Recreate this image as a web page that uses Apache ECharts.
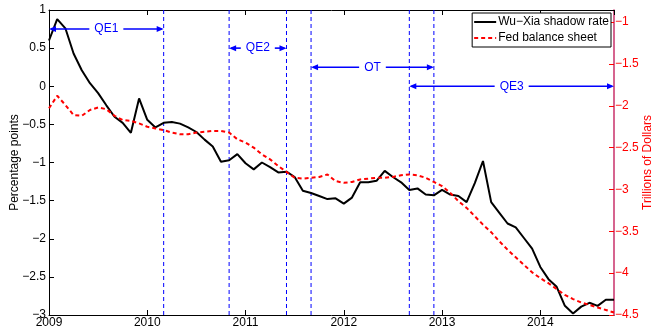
<!DOCTYPE html>
<html>
<head>
<meta charset="utf-8">
<script src="https://cdn.jsdelivr.net/npm/echarts@6/dist/echarts.min.js"></script>
<style>
  html, body { margin: 0; padding: 0; background: #fff; }
  #chart { width: 653px; height: 329px; }
</style>
</head>
<body>
<div id="chart"></div>
<script>
// Monthly observations, January 2009 through October 2014
const startYear = 2009;

// Wu–Xia shadow federal funds rate, percentage points (left axis)
const shadowRate = [
  0.60, 0.88, 0.76, 0.43, 0.21, 0.04, -0.09, -0.25, -0.40, -0.48, -0.61, -0.16,
  -0.44, -0.54, -0.48, -0.47, -0.49, -0.54, -0.60, -0.70, -0.79, -0.99, -0.97, -0.89,
  -1.01, -1.09, -1.00, -1.06, -1.13, -1.12, -1.19, -1.37, -1.40, -1.44, -1.48, -1.47,
  -1.54, -1.46, -1.26, -1.26, -1.24, -1.11, -1.19, -1.26, -1.36, -1.34, -1.42, -1.43,
  -1.36, -1.42, -1.44, -1.52, -1.27, -0.98, -1.52, -1.66, -1.80, -1.85, -1.99, -2.13,
  -2.37, -2.53, -2.63, -2.88, -2.98, -2.89, -2.84, -2.88, -2.80, -2.80
];

// Fed balance sheet, trillions of dollars, sign flipped (right axis)
const balanceSheet = [
  -2.03, -1.88, -1.99, -2.11, -2.12, -2.05, -2.02, -2.04, -2.12, -2.17, -2.18, -2.21,
  -2.25, -2.27, -2.29, -2.32, -2.34, -2.34, -2.32, -2.31, -2.30, -2.30, -2.32, -2.40,
  -2.44, -2.50, -2.58, -2.64, -2.72, -2.79, -2.86, -2.87, -2.86, -2.85, -2.82, -2.90,
  -2.92, -2.91, -2.88, -2.87, -2.86, -2.86, -2.85, -2.83, -2.82, -2.83, -2.86, -2.91,
  -2.96, -3.04, -3.14, -3.22, -3.32, -3.42, -3.51, -3.62, -3.72, -3.81, -3.90, -3.99,
  -4.06, -4.12, -4.19, -4.26, -4.31, -4.35, -4.38, -4.41, -4.44, -4.47
];

// Policy episodes: name, start, end (decimal years) and the level of the arrow
const episodeNames = ['QE1', 'QE2', 'OT', 'QE3'];
const episodeStart = [2009.0, 2010.833, 2011.667, 2012.667];
const episodeEnd   = [2010.167, 2011.417, 2012.917, 2014.75];
const episodeLevel = [0.75, 0.5, 0.25, 0.0];

// Dates of announcements drawn as dashed verticals
const eventDates = [2010.167, 2010.833, 2011.417, 2011.667, 2012.667, 2012.917];

const xMin = 2009, xMax = 2014.75;
const FONT = '"Liberation Sans", Arial, Helvetica, sans-serif';
const BLUE = '#0000ff';
const RED = '#ff0000';

const minus = v => String(+v.toFixed(2)).replace('-', '\u2212');

const shadowData = shadowRate.map((v, i) => [startYear + i / 12, v]);
const balanceData = balanceSheet.map((v, i) => [startYear + i / 12, v]);

const measure = (() => {
  const ctx = document.createElement('canvas').getContext('2d');
  ctx.font = '12px ' + FONT;
  return t => ctx.measureText(t).width;
})();

const chart = echarts.init(document.getElementById('chart'), null, { renderer: 'canvas' });

const option = {
  animation: false,
  backgroundColor: '#fff',
  textStyle: { fontFamily: FONT },
  grid: { left: 49, right: 39, top: 10, bottom: 14, containLabel: false, outerBoundsMode: 'none' },
  legend: {
    orient: 'vertical',
    right: 42,
    top: 13,
    backgroundColor: '#fff',
    borderColor: '#000',
    borderWidth: 1,
    borderRadius: 0,
    padding: [3, 2, 3, 1],
    itemGap: 4,
    itemWidth: 22,
    itemHeight: 10,
    itemStyle: { color: 'transparent', borderColor: 'transparent', borderWidth: 0 },
    textStyle: { fontSize: 12, color: '#000', fontFamily: FONT, padding: [0, 0, 0, -3] },
    data: ['Wu\u2212Xia shadow rate', 'Fed balance sheet']
  },
  xAxis: [
    {
      type: 'value', min: xMin, max: xMax, interval: 1, position: 'bottom',
      axisLine: { show: true, onZero: false, lineStyle: { color: '#000', width: 1 } },
      axisTick: { show: true, inside: true, length: 5, lineStyle: { color: '#000' } },
      axisLabel: {
        color: '#000', fontSize: 12, margin: 2, fontFamily: FONT, hideOverlap: false,
        showMaxLabel: false,
        formatter: v => (Math.abs(v - Math.round(v)) < 1e-6 ? String(Math.round(v)) : '')
      },
      splitLine: { show: false }
    },
    {
      type: 'value', min: xMin, max: xMax, interval: 1, position: 'top',
      axisLine: { show: true, onZero: false, lineStyle: { color: '#000', width: 1 } },
      axisTick: { show: true, inside: true, length: 5, lineStyle: { color: '#000' } },
      axisLabel: { show: false },
      splitLine: { show: false }
    }
  ],
  yAxis: [
    {
      type: 'value', min: -3, max: 1, interval: 0.5, position: 'left',
      name: 'Percentage points', nameLocation: 'middle', nameGap: 28, nameRotate: 90,
      nameMoveOverlap: false,
      nameTextStyle: { color: '#000', fontSize: 12, fontFamily: FONT },
      axisLine: { show: true, onZero: false, lineStyle: { color: '#000', width: 1 } },
      axisTick: { show: true, inside: true, length: 5, lineStyle: { color: '#000' } },
      axisLabel: { color: '#000', fontSize: 12, margin: 3, fontFamily: FONT, hideOverlap: false, formatter: v => minus(v) },
      splitLine: { show: false }
    },
    {
      type: 'value', min: -4.5, max: -0.855, interval: 0.5, position: 'right',
      name: 'Trillions of Dollars', nameLocation: 'middle', nameGap: 28, nameRotate: 90,
      nameMoveOverlap: false,
      nameTextStyle: { color: RED, fontSize: 12, fontFamily: FONT },
      axisLine: { show: true, onZero: false, lineStyle: { color: '#c8306a', width: 1.5 } },
      axisTick: { show: true, inside: true, length: 5, lineStyle: { color: RED } },
      axisLabel: {
        color: RED, fontSize: 12, margin: 1, fontFamily: FONT, hideOverlap: false,
        showMaxLabel: false,
        formatter: v => (Math.abs(v * 2 - Math.round(v * 2)) < 1e-6 ? minus(v) : '')
      },
      splitLine: { show: false }
    }
  ],
  series: [
    {
      name: 'Wu\u2212Xia shadow rate',
      type: 'line',
      xAxisIndex: 0, yAxisIndex: 0,
      data: shadowData,
      symbol: 'none',
      lineStyle: { color: '#000', width: 2 },
      itemStyle: { color: '#000' },
      z: 3
    },
    {
      name: 'Fed balance sheet',
      type: 'line',
      xAxisIndex: 0, yAxisIndex: 1,
      data: balanceData,
      symbol: 'none',
      lineStyle: { color: RED, width: 2, type: [4, 3] },
      itemStyle: { color: RED },
      z: 4
    },
    {
      // Dashed verticals at each announcement date
      type: 'custom',
      xAxisIndex: 0, yAxisIndex: 0,
      silent: true,
      z: 2,
      data: eventDates.map(d => [d]),
      renderItem: (params, api) => {
        const top = api.coord([api.value(0), 1]);
        const bottom = api.coord([api.value(0), -3]);
        return {
          type: 'line',
          shape: { x1: top[0], y1: top[1], x2: bottom[0], y2: bottom[1] },
          style: { stroke: BLUE, lineWidth: 1, lineDash: [4, 3] }
        };
      }
    },
    {
      // Double-headed arrows with episode names
      type: 'custom',
      xAxisIndex: 0, yAxisIndex: 0,
      silent: true,
      z: 5,
      data: episodeNames.map((n, i) => [episodeStart[i], episodeEnd[i], episodeLevel[i]]),
      renderItem: (params, api) => {
        const name = episodeNames[params.dataIndex];
        const p1 = api.coord([api.value(0), api.value(2)]);
        const p2 = api.coord([api.value(1), api.value(2)]);
        const y = p1[1];
        const mid = (p1[0] + p2[0]) / 2;
        const half = measure(name) / 2 + 5;
        const head = 7, hw = 3;
        const line = (a, b) => ({
          type: 'line',
          shape: { x1: a, y1: y, x2: b, y2: y },
          style: { stroke: BLUE, lineWidth: 1.6 }
        });
        return {
          type: 'group',
          children: [
            line(p1[0] + 2, mid - half),
            line(mid + half, p2[0] - 2),
            { type: 'polygon', shape: { points: [[p1[0], y], [p1[0] + head, y - hw], [p1[0] + head, y + hw]] }, style: { fill: BLUE } },
            { type: 'polygon', shape: { points: [[p2[0], y], [p2[0] - head, y - hw], [p2[0] - head, y + hw]] }, style: { fill: BLUE } },
            { type: 'text', style: { text: name, x: mid, y: y, align: 'center', verticalAlign: 'middle', fill: BLUE, font: '12px ' + FONT } }
          ]
        };
      }
    }
  ]
};

chart.setOption(option);
</script>
</body>
</html>
